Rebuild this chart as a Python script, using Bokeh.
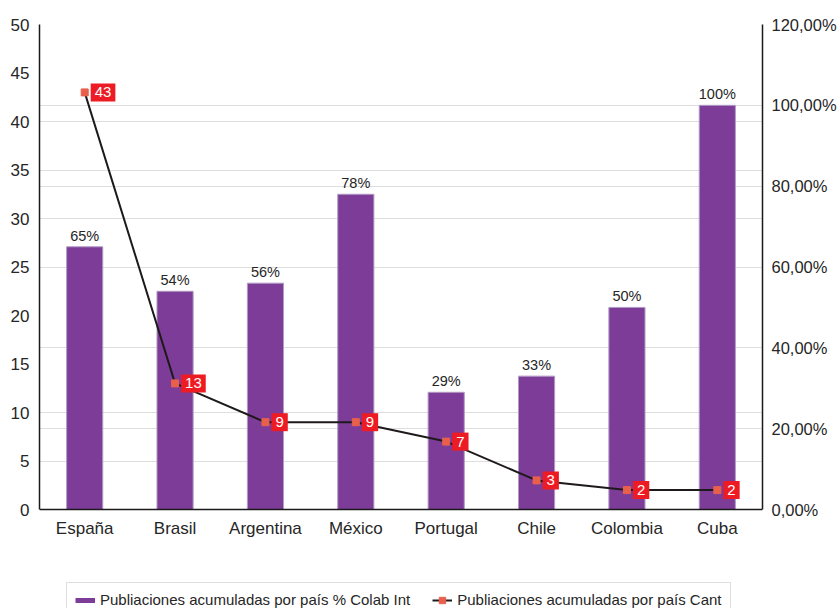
from bokeh.plotting import figure
from bokeh.models import (FactorRange, Range1d, LinearAxis, FixedTicker, Grid,
                          Legend, LegendItem, ColumnDataSource)
from bokeh.embed import file_html
from bokeh.resources import INLINE
from bokeh.core.properties import value

# ---------------- data ----------------
countries = ["España", "Brasil", "Argentina", "México", "Portugal", "Chile", "Colombia", "Cuba"]
counts = [43, 13, 9, 9, 7, 3, 2, 2]                 # Publiaciones acumuladas por país Cant
colab_pct = [65, 54, 56, 78, 29, 33, 50, 100]        # Publiaciones acumuladas por país % Colab Int
left_ticks = [0, 5, 10, 15, 20, 25, 30, 35, 40, 45, 50]
left_grid_ticks = [5, 10, 30, 35, 40, 50]
right_ticks = [0, 20, 40, 60, 80, 100, 120]
right_tick_labels = ["0,00%", "20,00%", "40,00%", "60,00%", "80,00%", "100,00%", "120,00%"]
series_bar = "Publiaciones acumuladas por país % Colab Int"
series_line = "Publiaciones acumuladas por país Cant"

FONT = "Liberation Sans"
TXT = "#262626"
PURPLE = "#7D3C98"

W, H = 839, 608
LEFT, RIGHT, TOP, BASE = 39, 764, 24, 509   # plot-area pixel layout
# extend the frame below the x-axis so the legend lies inside the frame
px_per_cnt = (BASE - TOP) / 50.0
px_per_pct = (BASE - TOP) / 120.0
cnt_low = -(H - BASE) / px_per_cnt
pct_low = -(H - BASE) / px_per_pct

src = ColumnDataSource(dict(
    x=countries,
    cnt=counts,
    cnt_lbl=[str(c) for c in counts],
    pct=colab_pct,
    pct_lbl=[f"{v}%" for v in colab_pct],
))

p = figure(x_range=FactorRange(factors=countries, range_padding=0),
           y_range=Range1d(cnt_low, 50),
           width=W, height=H, output_backend="svg", toolbar_location=None,
           min_border_left=LEFT, min_border_right=W - RIGHT, min_border_top=TOP,
           min_border_bottom=0)
p.extra_y_ranges = {"pct": Range1d(pct_low, 120)}
p.outline_line_color = None
p.background_fill_color = "white"
p.border_fill_color = "white"

# grids
p.xgrid.visible = False
p.ygrid.ticker = FixedTicker(ticks=left_grid_ticks)
p.ygrid.grid_line_color = "#DEDEDE"
p.ygrid.grid_line_width = 1
g2 = Grid(dimension=1, ticker=FixedTicker(ticks=right_ticks), y_range_name="pct",
          grid_line_color="#DEDEDE", grid_line_width=1)
p.add_layout(g2)

# left axis
ya = p.yaxis[0]
ya.ticker = FixedTicker(ticks=left_ticks)
ya.bounds = (0, 50)
ya.major_tick_line_color = None
ya.major_tick_out = 0
ya.minor_tick_line_color = None
ya.axis_line_color = "#1A1A1A"
ya.axis_line_width = 1.5
ya.major_label_text_font = FONT
ya.major_label_text_font_size = "17px"
ya.major_label_text_color = TXT
ya.major_label_standoff = 10

# right axis
ra = LinearAxis(y_range_name="pct", ticker=FixedTicker(ticks=right_ticks), bounds=(0, 120))
ra.major_label_overrides = {t: l for t, l in zip(right_ticks, right_tick_labels)}
ra.major_tick_line_color = None
ra.major_tick_out = 0
ra.minor_tick_line_color = None
ra.axis_line_color = "#1A1A1A"
ra.axis_line_width = 1.5
ra.major_label_text_font = FONT
ra.major_label_text_font_size = "16.5px"
ra.major_label_text_color = TXT
ra.major_label_standoff = 9
p.add_layout(ra, "right")

# bottom axis, pinned at y = 0
xa = p.xaxis[0]
xa.fixed_location = 0
xa.major_tick_line_color = None
xa.major_tick_out = 0
xa.axis_line_color = "#1A1A1A"
xa.axis_line_width = 1.5
xa.major_label_text_font = FONT
xa.major_label_text_font_size = "17px"
xa.major_label_text_color = TXT
xa.major_label_standoff = 9

# bars (right axis)
p.vbar(x="x", top="pct", width=0.4, source=src, y_range_name="pct",
       fill_color=PURPLE, line_color="#B09CC4", line_width=1)
p.text(x="x", y="pct", text="pct_lbl", source=src, y_range_name="pct",
       text_align="center", text_baseline="bottom", y_offset=-3,
       text_font=value(FONT), text_font_size="14.5px", text_color=TXT)

# line (left axis)
p.line(x="x", y="cnt", source=src, line_color="#1E1A1B", line_width=2)
p.scatter(x="x", y="cnt", source=src, marker="square", size=7,
          fill_color="#E8604C", line_color="#E8604C")
p.text(x="x", y="cnt", text="cnt_lbl", source=src,
       text_align="left", text_baseline="middle", x_offset=6,
       text_font=value(FONT), text_font_size="15px", text_color="white",
       background_fill_color="#ED1C24", padding={"x": 4, "y": 4})

# legend swatches: renderers holding no drawable data (NaN), used only for the legend
nodata = ColumnDataSource(dict(x=countries[:1], y=[float("nan")]))
r_bar_leg = p.line(x="x", y="y", source=nodata, line_color=PURPLE, line_width=5)
r_line_leg = p.line(x="x", y="y", source=nodata, line_color="#1E1A1B", line_width=2)
r_pt_leg = p.scatter(x="x", y="y", source=nodata, marker="square", size=7,
                     fill_color="#E8604C", line_color="#E8604C")
legend = Legend(items=[LegendItem(label=series_bar, renderers=[r_bar_leg]),
                       LegendItem(label=series_line, renderers=[r_line_leg, r_pt_leg])],
                orientation="horizontal", location=(27, -9),
                padding=8, spacing=22, margin=0, glyph_width=20, glyph_height=16,
                label_standoff=5, label_text_font=FONT, label_text_font_size="15px",
                label_text_color=TXT, border_line_color="#BFBFBF", border_line_width=1,
                background_fill_color="white", background_fill_alpha=1)
p.add_layout(legend, "center")

open("out.html", "w").write(file_html(p, INLINE))
